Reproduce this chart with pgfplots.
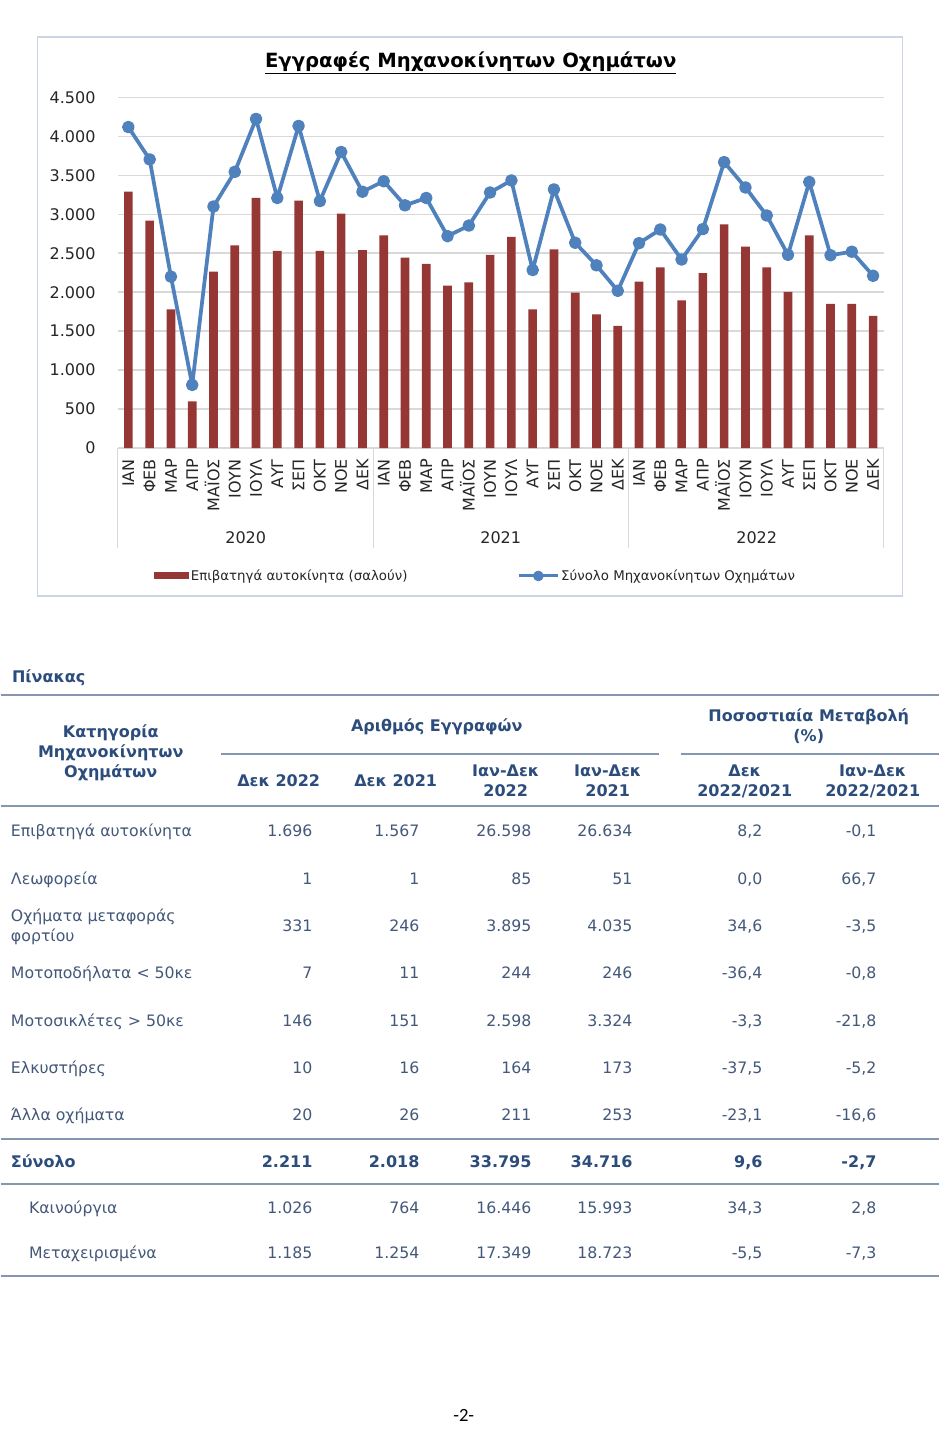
\documentclass[border=0pt]{standalone}
\usepackage{pgfplots}
\pgfplotsset{compat=1.18}
\usepackage{pgfplotstable}
\usepackage{fontspec}
\setmainfont{DejaVu Sans}
\newfontfamily\pagefont{Carlito}

\definecolor{barred}{HTML}{953735}
\definecolor{lineblue}{HTML}{4F81BD}
\definecolor{gridgray}{HTML}{D9D9D9}
\definecolor{framecol}{HTML}{C9D5E4}
\definecolor{tickcol}{HTML}{262626}
\definecolor{hdr}{HTML}{2C4D7C}
\definecolor{bodycol}{HTML}{44587A}
\definecolor{rulecol}{HTML}{8496B0}

\newcommand\fs[1]{\fontsize{#1}{#1}\selectfont}

% monthly registrations, 2020-2022 (index 0 = Jan 2020)
\pgfplotstableread{
idx cars total
0  3290 4120
1  2920 3705
2  1780 2200
3  600  810
4  2265 3100
5  2600 3545
6  3210 4225
7  2530 3210
8  3175 4135
9  2530 3170
10 3010 3800
11 2540 3290
12 2730 3425
13 2445 3115
14 2365 3210
15 2085 2720
16 2125 2855
17 2480 3280
18 2710 3435
19 1780 2285
20 2550 3320
21 1995 2635
22 1715 2345
23 1567 2018
24 2135 2630
25 2320 2805
26 1895 2420
27 2245 2810
28 2870 3670
29 2585 3345
30 2320 2985
31 2005 2480
32 2730 3415
33 1850 2475
34 1850 2520
35 1696 2211
}\regdata

% table row: y, label, six values
\newcommand\trow[8]{%
  \node[txt,anchor=west] at (10,#1) {#2};
  \node[txt,anchor=east] at (312,#1) {#3};
  \node[txt,anchor=east] at (419,#1) {#4};
  \node[txt,anchor=east] at (531,#1) {#5};
  \node[txt,anchor=east] at (632,#1) {#6};
  \node[txt,anchor=east] at (762,#1) {#7};
  \node[txt,anchor=east] at (876,#1) {#8};
}

\begin{document}
\begin{tikzpicture}
\begin{scope}[x=0.75pt,y=-0.75pt]
  \useasboundingbox (0,0) rectangle (938,1431);
  \fill[white] (0,0) rectangle (938,1431);
  % chart frame
  \draw[framecol, line width=1.1pt] (37,37) rectangle (902,596);
  \node[font=\bfseries\fs{14.7}, text=black] at (470,63) {\underline{Εγγραφές Μηχανοκίνητων Οχημάτων}};
  % year groups
  \foreach \xx in {117,373,628,883} \draw[gridgray, line width=1.1pt] (\xx,448) -- (\xx,548);
  \node[font=\fs{12}, text=tickcol] at (245,538) {2020};
  \node[font=\fs{12}, text=tickcol] at (500,538) {2021};
  \node[font=\fs{12}, text=tickcol] at (756,538) {2022};
\end{scope}

\begin{axis}[
  at={(87.75pt,-336pt)}, anchor=south west,
  scale only axis, width=574.5pt, height=262.9pt,
  xmin=-0.5, xmax=35.5, ymin=0, ymax=4500,
  ytick={0,500,...,4500},
  xtick={0,...,35},
  xticklabels={ΙΑΝ,ΦΕΒ,ΜΑΡ,ΑΠΡ,ΜΑΪΟΣ,ΙΟΥΝ,ΙΟΥΛ,ΑΥΓ,ΣΕΠ,ΟΚΤ,ΝΟΕ,ΔΕΚ,
               ΙΑΝ,ΦΕΒ,ΜΑΡ,ΑΠΡ,ΜΑΪΟΣ,ΙΟΥΝ,ΙΟΥΛ,ΑΥΓ,ΣΕΠ,ΟΚΤ,ΝΟΕ,ΔΕΚ,
               ΙΑΝ,ΦΕΒ,ΜΑΡ,ΑΠΡ,ΜΑΪΟΣ,ΙΟΥΝ,ΙΟΥΛ,ΑΥΓ,ΣΕΠ,ΟΚΤ,ΝΟΕ,ΔΕΚ},
  axis line style={draw=none},
  major tick length=0pt,
  ymajorgrids, grid style={gridgray, line width=1.2pt},
  tick label style={font=\fs{12}, text=tickcol},
  x tick label style={yshift=-8.25pt, rotate=90, anchor=east, inner sep=0pt, text height=8.75pt, text depth=0pt},
  y tick label style={anchor=east, inner sep=0pt, xshift=-16.5pt},
  /pgf/number format/1000 sep={.},
  /pgf/number format/assume math mode=true,
  scaled y ticks=false,
  clip=false,
  legend columns=2,
  legend style={draw=none, fill=none, inner sep=0pt, at={(0.467,-0.365)}, anchor=center,
    font=\fs{10}, text=tickcol, column sep=0pt, nodes={inner sep=1.5pt},
    /tikz/every even column/.append style={column sep=81pt}},
]
\addplot[ybar, bar width=6.5pt, fill=barred, draw=none,
  legend image code/.code={\fill[barred] (0pt,-2.6pt) rectangle (26.3pt,2.6pt);}]
  table[x=idx, y=cars] {\regdata};
\addplot[lineblue, line width=2.8pt, line join=round, mark=*, mark size=3.3pt,
  mark options={solid, fill=lineblue, draw=none},
  legend image code/.code={\draw[lineblue, line width=2.3pt, mark=*, mark size=2.8pt,
    mark options={fill=lineblue, draw=none}, mark repeat=2, mark phase=2]
    plot coordinates {(0pt,0pt) (14.5pt,0pt) (29pt,0pt)};}]
  table[x=idx, y=total] {\regdata};
\legend{Επιβατηγά αυτοκίνητα (σαλούν), Σύνολο Μηχανοκίνητων Οχημάτων}
\end{axis}

\begin{scope}[x=0.75pt,y=-0.75pt,
  txt/.style={inner sep=0pt, text height=8.75pt, text depth=0pt, font=\fs{11.8}, text=bodycol},
  hd/.style={inner sep=0pt, text height=8.75pt, text depth=0pt, font=\bfseries\fs{12}, text=hdr}]
  \node[hd, anchor=west] at (11,677) {Πίνακας};
  % rules
  \draw[rulecol, line width=1.1pt] (0,695) -- (938,695);
  \draw[rulecol, line width=1.1pt] (220,754) -- (658,754);
  \draw[rulecol, line width=1.1pt] (680,754) -- (938,754);
  \draw[rulecol, line width=1.1pt] (0,806) -- (938,806);
  \draw[rulecol, line width=1.1pt] (0,1139) -- (938,1139);
  \draw[rulecol, line width=1.1pt] (0,1184) -- (938,1184);
  \draw[rulecol, line width=1.1pt] (0,1276) -- (938,1276);
  % header
  \node[hd] at (110,732) {Κατηγορία};
  \node[hd] at (110,752) {Μηχανοκίνητων};
  \node[hd] at (110,772) {Οχημάτων};
  \node[hd] at (436,726) {Αριθμός Εγγραφών};
  \node[hd] at (808,716) {Ποσοστιαία Μεταβολή};
  \node[hd] at (808,736) {(\%)};
  \node[hd] at (278,781) {Δεκ 2022};
  \node[hd] at (395,781) {Δεκ 2021};
  \node[hd] at (505,771) {Ιαν-Δεκ};
  \node[hd] at (505,791) {2022};
  \node[hd] at (607,771) {Ιαν-Δεκ};
  \node[hd] at (607,791) {2021};
  \node[hd] at (744,771) {Δεκ};
  \node[hd] at (744,791) {2022/2021};
  \node[hd] at (872,771) {Ιαν-Δεκ};
  \node[hd] at (872,791) {2022/2021};
  % body
  \trow{831}{Επιβατηγά αυτοκίνητα}{1.696}{1.567}{26.598}{26.634}{8,2}{-0,1}
  \trow{879}{Λεωφορεία}{1}{1}{85}{51}{0,0}{66,7}
  \trow{926}{}{331}{246}{3.895}{4.035}{34,6}{-3,5}
  \node[txt, anchor=west] at (10,916) {Οχήματα μεταφοράς};
  \node[txt, anchor=west] at (10,936) {φορτίου};
  \trow{973}{Μοτοποδήλατα < 50κε}{7}{11}{244}{246}{-36,4}{-0,8}
  \trow{1021}{Μοτοσικλέτες > 50κε}{146}{151}{2.598}{3.324}{-3,3}{-21,8}
  \trow{1068}{Ελκυστήρες}{10}{16}{164}{173}{-37,5}{-5,2}
  \trow{1115}{Άλλα οχήματα}{20}{26}{211}{253}{-23,1}{-16,6}
  \begin{scope}[txt/.style={hd}]
    \trow{1162}{Σύνολο}{2.211}{2.018}{33.795}{34.716}{9,6}{-2,7}
  \end{scope}
  \trow{1208}{\hspace*{13.5pt}Καινούργια}{1.026}{764}{16.446}{15.993}{34,3}{2,8}
  \trow{1253}{\hspace*{13.5pt}Μεταχειρισμένα}{1.185}{1.254}{17.349}{18.723}{-5,5}{-7,3}
  % page number
  \node[font=\pagefont\fs{14}, text=black] at (463,1415) {-2-};
\end{scope}
\end{tikzpicture}
\end{document}
